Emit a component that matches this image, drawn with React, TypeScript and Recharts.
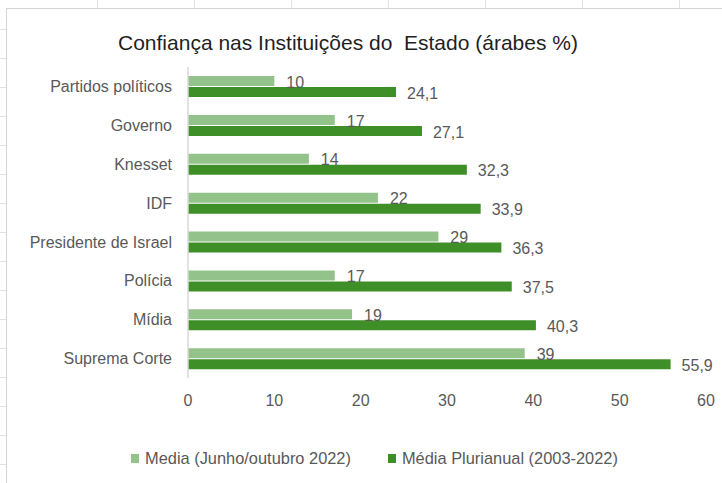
import { Bar, BarChart, LabelList, Legend, XAxis, YAxis } from "recharts";

const categories = [
  "Partidos políticos",
  "Governo",
  "Knesset",
  "IDF",
  "Presidente de Israel",
  "Polícia",
  "Mídia",
  "Suprema Corte",
];
const media2022 = [10, 17, 14, 22, 29, 17, 19, 39];
const mediaPlurianual = [24.1, 27.1, 32.3, 33.9, 36.3, 37.5, 40.3, 55.9];
const xTicks = [0, 10, 20, 30, 40, 50, 60];

const seriesNames = ["Media (Junho/outubro 2022)", "Média Plurianual (2003-2022)"];
const COLORS = ["#93C28A", "#3F8F29"];

const data = categories.map((name, i) => ({
  name,
  recent: media2022[i],
  plurianual: mediaPlurianual[i],
}));

const FONT = "'Liberation Sans', Arial, sans-serif";
const TEXT = "#595959";

const fmt = (v: unknown) => String(v).replace(".", ",");

const LegendContent = () => (
  <div
    style={{
      display: "flex",
      justifyContent: "flex-start",
      paddingLeft: 131,
      gap: 37,
      fontFamily: FONT,
      fontSize: 16.4,
      color: TEXT,
    }}
  >
    {seriesNames.map((s, i) => (
      <span key={s} style={{ display: "flex", alignItems: "center" }}>
        <span
          style={{
            width: 8,
            height: 9,
            background: COLORS[i],
            marginRight: 6,
            display: "inline-block",
          }}
        />
        {s}
      </span>
    ))}
  </div>
);

const App = () => {
  return (
    <div
      style={{
        position: "absolute",
        left: 0,
        top: 0,
        width: 722,
        height: 483,
        background: "#fff",
        overflow: "hidden",
      }}
    >
      {/* spreadsheet cell marks around the chart frame */}
      {[97, 194, 291, 388, 485, 582, 679].map((x) => (
        <div
          key={"t" + x}
          style={{ position: "absolute", left: x, top: 0, width: 1, height: 8, background: "#e3e3e3" }}
        />
      ))}
      {[29, 58, 87, 116, 145, 174, 203, 232, 261, 290, 319, 348, 377, 406, 435, 464].map((y) => (
        <div
          key={"l" + y}
          style={{ position: "absolute", left: 0, top: y, width: 6, height: 1, background: "#e3e3e3" }}
        />
      ))}
      <div
        style={{
          position: "absolute",
          left: 6,
          top: 8,
          width: 730,
          height: 490,
          borderLeft: "1px solid #d4d4d4",
          borderTop: "1px solid #d4d4d4",
        }}
      />
      <div
        style={{
          position: "absolute",
          left: 118,
          top: 31,
          fontFamily: FONT,
          fontSize: 21,
          color: "#1f1f1f",
          whiteSpace: "pre",
        }}
      >
        Confiança nas Instituições do  Estado (árabes %)
      </div>
      <div style={{ position: "absolute", left: 0, top: 0 }}>
        <BarChart
          width={722}
          height={483}
          data={data}
          layout="vertical"
          margin={{ top: 67, right: 16, bottom: 0, left: 0 }}
          barSize={10}
          barGap={1}
        >
          <XAxis
            type="number"
            domain={[0, 60]}
            ticks={xTicks}
            axisLine={false}
            tickLine={false}
            tickMargin={11}
            height={49}
            tick={{ fill: TEXT, fontSize: 16, fontFamily: FONT }}
          />
          <YAxis
            type="category"
            dataKey="name"
            width={188}
            axisLine={{ stroke: "#d9d9d9", strokeWidth: 1.5 }}
            tickLine={false}
            tickMargin={10}
            tick={{ fill: TEXT, fontSize: 16, fontFamily: FONT }}
          />
          <Legend
            verticalAlign="bottom"
            height={56}
            content={<LegendContent />}
            wrapperStyle={{ top: 449, left: 0, width: 722 }}
          />
          <Bar dataKey="recent" name={seriesNames[0]} fill={COLORS[0]} isAnimationActive={false}>
            <LabelList
              dataKey="recent"
              position="right"
              offset={12}
              formatter={fmt}
              style={{ fill: TEXT, fontSize: 16, fontFamily: FONT, transform: "translateY(1px)" }}
            />
          </Bar>
          <Bar dataKey="plurianual" name={seriesNames[1]} fill={COLORS[1]} isAnimationActive={false}>
            <LabelList
              dataKey="plurianual"
              position="right"
              offset={11}
              formatter={fmt}
              style={{ fill: TEXT, fontSize: 16, fontFamily: FONT, transform: "translateY(1px)" }}
            />
          </Bar>
        </BarChart>
      </div>
    </div>
  );
};

export default App;
